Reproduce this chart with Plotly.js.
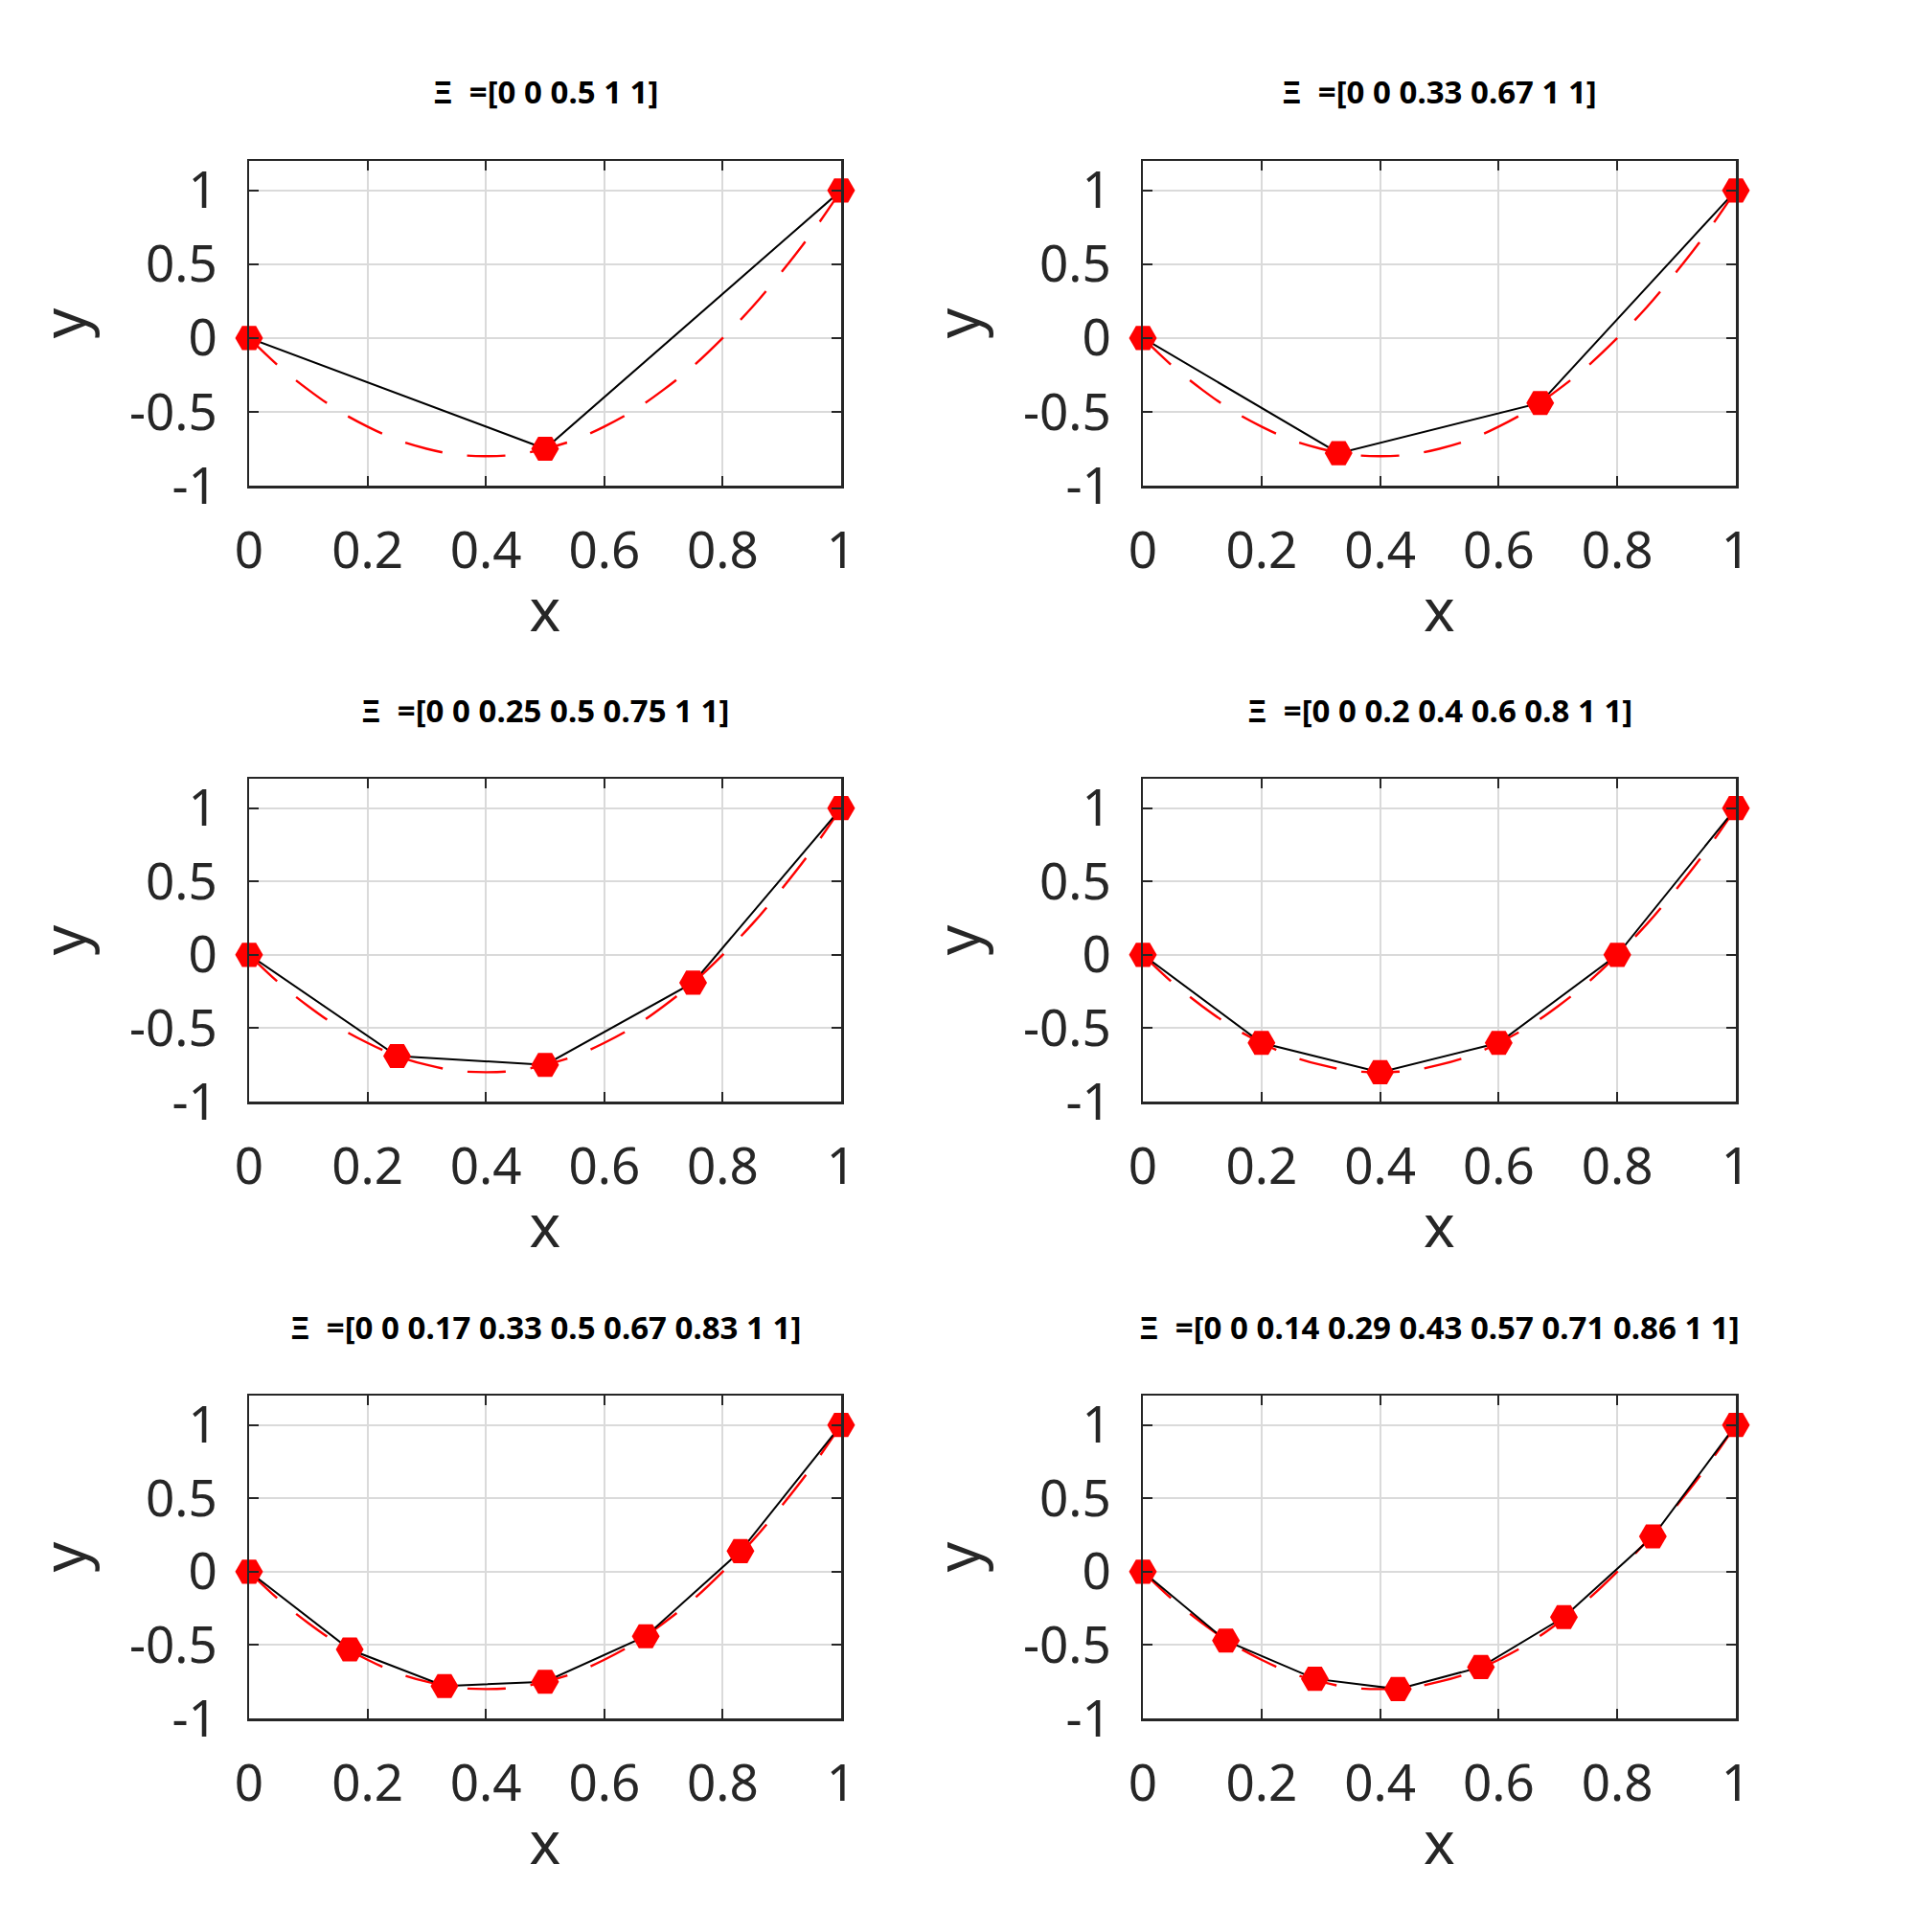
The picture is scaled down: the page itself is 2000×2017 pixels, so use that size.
<!DOCTYPE html>
<html>
<head>
<meta charset="utf-8">
<script src="https://cdn.plot.ly/plotly-3.0.1.min.js"></script>
<style>html,body{margin:0;padding:0;background:#fff;}#plot{width:2000px;height:2017px;}</style>
</head>
<body>
<div id="plot"></div>
<script>
// Subplot titles (knot vectors)
const titles = [
  "Ξ&nbsp; =[0 0 0.5 1 1]",
  "Ξ&nbsp; =[0 0 0.33 0.67 1 1]",
  "Ξ&nbsp; =[0 0 0.25 0.5 0.75 1 1]",
  "Ξ&nbsp; =[0 0 0.2 0.4 0.6 0.8 1 1]",
  "Ξ&nbsp; =[0 0 0.17 0.33 0.5 0.67 0.83 1 1]",
  "Ξ&nbsp; =[0 0 0.14 0.29 0.43 0.57 0.71 0.86 1 1]"
];

// Exact curve (red dashed)
const curveX = [0, 0.05, 0.1, 0.15, 0.2, 0.25, 0.3, 0.35, 0.4, 0.45, 0.5, 0.55, 0.6, 0.65, 0.7, 0.75, 0.8, 0.85, 0.9, 0.95, 1];
const curveY = [0, -0.19, -0.35, -0.49, -0.6, -0.69, -0.75, -0.79, -0.8, -0.79, -0.75, -0.69, -0.6, -0.49, -0.35, -0.19, 0, 0.21, 0.45, 0.71, 1];

// Control polygons (black line, red hexagon markers)
const ctrlX1 = [0, 0.5, 1];
const ctrlY1 = [0, -0.75, 1];
const ctrlX2 = [0, 0.33, 0.67, 1];
const ctrlY2 = [0, -0.78, -0.44, 1];
const ctrlX3 = [0, 0.25, 0.5, 0.75, 1];
const ctrlY3 = [0, -0.69, -0.75, -0.19, 1];
const ctrlX4 = [0, 0.2, 0.4, 0.6, 0.8, 1];
const ctrlY4 = [0, -0.6, -0.8, -0.6, 0, 1];
const ctrlX5 = [0, 0.17, 0.33, 0.5, 0.67, 0.83, 1];
const ctrlY5 = [0, -0.53, -0.78, -0.75, -0.44, 0.14, 1];
const ctrlX6 = [0, 0.14, 0.29, 0.43, 0.57, 0.71, 0.86, 1];
const ctrlY6 = [0, -0.47, -0.73, -0.8, -0.65, -0.31, 0.24, 1];

const xTickVals = [0, 0.2, 0.4, 0.6, 0.8, 1];
const xTickText = ["0", "0.2", "0.4", "0.6", "0.8", "1"];
const yTickVals = [-1, -0.5, 0, 0.5, 1];
const yTickText = ["-1", "-0.5", "0", "0.5", "1"];

const ctrlXs = [ctrlX1, ctrlX2, ctrlX3, ctrlX4, ctrlX5, ctrlX6];
const ctrlYs = [ctrlY1, ctrlY2, ctrlY3, ctrlY4, ctrlY5, ctrlY6];

const W = 2000, H = 2017;
const colPx = [[260, 878], [1193, 1812]];
const rowPx = [[168, 507], [813, 1150], [1457, 1794]];
const titleYpx = [96, 741, 1385];

const FONT = "Noto Sans, Open Sans, DejaVu Sans, sans-serif";
const AX = "#262626";

const data = [];
const layout = {
  width: W, height: H,
  margin: {l: 0, r: 0, t: 0, b: 0},
  paper_bgcolor: "#ffffff",
  plot_bgcolor: "#ffffff",
  showlegend: false,
  font: {family: FONT, color: AX},
  annotations: []
};

for (let i = 0; i < 6; i++) {
  const r = Math.floor(i / 2), c = i % 2;
  const sfx = i === 0 ? "" : String(i + 1);
  const xa = "x" + sfx, ya = "y" + sfx;
  data.push({
    x: curveX, y: curveY, xaxis: xa, yaxis: ya,
    type: "scatter", mode: "lines",
    line: {color: "#ff0000", width: 2.4, dash: "40px,26px", shape: "spline"},
    hoverinfo: "skip", cliponaxis: false
  });
  data.push({
    x: ctrlXs[i], y: ctrlYs[i], xaxis: xa, yaxis: ya,
    type: "scatter", mode: "lines+markers",
    line: {color: "#000000", width: 2},
    marker: {symbol: "hexagon2", size: 29, color: "#ff0000", line: {width: 0}},
    cliponaxis: false
  });
  const xdom = [colPx[c][0] / W, colPx[c][1] / W];
  const ydom = [1 - rowPx[r][1] / H, 1 - rowPx[r][0] / H];
  const common = {
    showline: true, linecolor: AX, linewidth: 2.5, mirror: "ticks",
    ticks: "inside", ticklen: 10, tickwidth: 2, tickcolor: AX,
    showgrid: true, gridcolor: "#dadada", gridwidth: 2,
    zeroline: false,
    tickfont: {family: FONT, size: 53, color: AX}
  };
  layout["xaxis" + sfx] = Object.assign({}, common, {
    domain: xdom, anchor: ya, range: [0, 1],
    tickmode: "array", tickvals: xTickVals, ticktext: xTickText,
    ticklabelstandoff: 20,
    title: {text: "x", font: {family: FONT, size: 62, color: AX}, standoff: 8}
  });
  layout["yaxis" + sfx] = Object.assign({}, common, {
    domain: ydom, anchor: xa, range: [-1, 1.2],
    tickmode: "array", tickvals: yTickVals, ticktext: yTickText,
    ticklabelstandoff: 20,
    title: {text: "y", font: {family: FONT, size: 62, color: AX}, standoff: 26}
  });
  layout.annotations.push({
    xref: "paper", yref: "paper",
    x: (colPx[c][0] + colPx[c][1]) / 2 / W,
    y: 1 - titleYpx[r] / H,
    xanchor: "center", yanchor: "middle",
    showarrow: false,
    text: "<b>" + titles[i] + "</b>",
    font: {family: FONT, size: 33, color: "#000000"}
  });
}

Plotly.newPlot("plot", data, layout, {displayModeBar: false, staticPlot: true});
</script>
</body>
</html>
